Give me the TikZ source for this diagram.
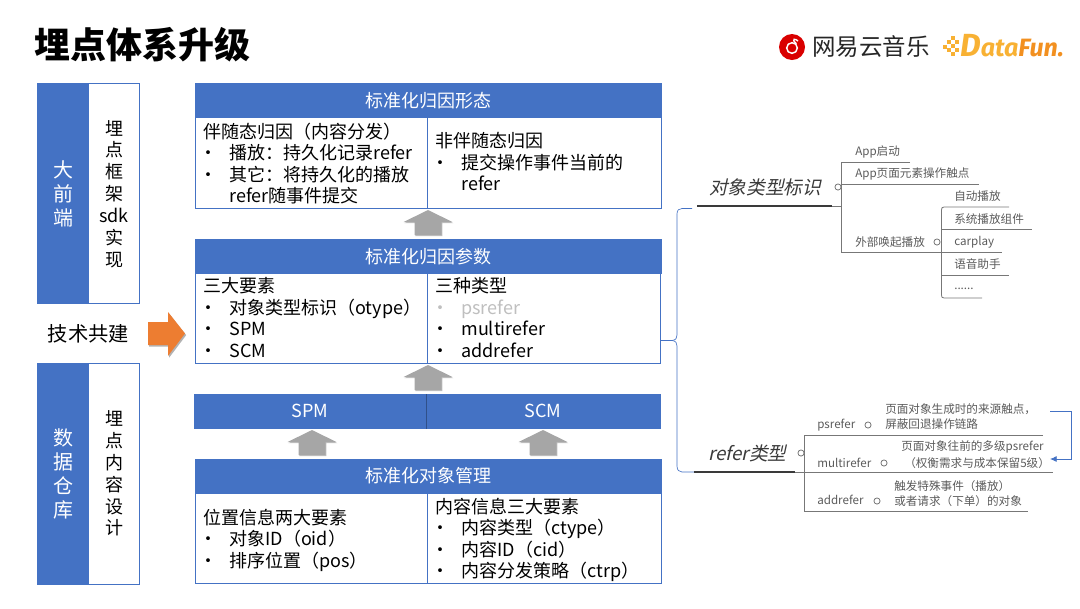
\documentclass[tikz,border=0pt]{standalone}
\usepackage{fontspec}
\setmainfont{Noto Sans CJK SC}
\newfontfamily\cjkslant[FakeSlant=0.22]{Noto Sans CJK SC}
\newfontfamily\dfont{Fira Sans}
\usetikzlibrary{shadows,arrows.meta}
\definecolor{hdblue}{HTML}{4472C4}
\definecolor{arrgray}{HTML}{A6A6A6}
\definecolor{orgarrow}{HTML}{ED7D31}
\definecolor{mapgray}{HTML}{5A5A5A}
\definecolor{mapline}{HTML}{777777}
\definecolor{maptitle}{HTML}{3A3A3A}
\definecolor{dfyellow}{HTML}{F8B133}
\definecolor{dforange}{HTML}{F29020}
\newcommand{\cellfont}{\fontsize{13.5pt}{16.1pt}\selectfont}
\newcommand{\mapfont}{\fontsize{8.7pt}{11pt}\selectfont}
\newcommand{\bul}[1]{\makebox[19.2pt][l]{\hspace*{-3.5pt}•}#1}
\newcommand{\ind}[1]{\hspace*{19.2pt}#1}
% \pbox{name}{x0}{y0}{x1}{y1}{style}{text}
\newcommand{\pbox}[7]{\node[#6,minimum width={(#4-#2)*0.75pt},minimum height={(#5-#3)*0.75pt}] (#1) at ({(#2+#4)/2},{(#3+#5)/2}) {#7};}
% \blockup{name}{tip x}{tip y}
\newcommand{\blockup}[3]{\coordinate (#1) at (#2,#3);
  \path[uparrow,shift={(#2,#3)}] (0,0) -- (24.5,12) -- (13.5,12) -- (13.5,25) -- (-13.5,25) -- (-13.5,12) -- (-24.5,12) -- cycle;}
\tikzset{
  bluebox/.style={draw=hdblue,fill=hdblue,line width=0.6pt,inner sep=0pt,outer sep=0pt,text=white,font=\cellfont},
  whitebox/.style={draw=hdblue,fill=white,line width=0.6pt,inner sep=0pt,outer sep=0pt},
  celltext/.style={anchor=north west,inner sep=0pt,align=left,font=\cellfont,text=black},
  sidetext/.style={inner sep=0pt,align=center},
  uparrow/.style={fill=arrgray,drop shadow={shadow xshift=0.6pt,shadow yshift=-0.9pt,opacity=.25,fill=black}},
  maptext/.style={anchor=west,inner sep=0pt,font=\mapfont,text=mapgray},
  mapline/.style={draw=mapline,line width=0.6pt},
  mapthick/.style={draw=maptitle,line width=1.5pt},
  mapdot/.style={circle,draw=mapline,line width=0.6pt,fill=white,minimum size=4.6pt,inner sep=0pt},
  maptitle/.style={anchor=west,inner sep=0pt,text=maptitle},
  bracket/.style={draw=hdblue,line width=0.5pt}
}
\begin{document}
\begin{tikzpicture}[x=0.75pt,y=-0.75pt]
\useasboundingbox (0,0) rectangle (1080,608);
% title
\node[anchor=west,inner sep=0pt,font={\fontsize{27pt}{30pt}\selectfont\bfseries}] (title) at (34.5,45) {埋点体系升级};
% logos
\node[circle,fill=red!85!black,minimum size=19.5pt,inner sep=0pt] (nelogo) at (792,47) {};
\node[circle,draw=white,line width=1.1pt,minimum size=8pt,inner sep=0pt] (nering) at (792,48) {};
\draw[white,line width=1.1pt] (nering.north east) .. controls (791,39) and (795,38) .. (798,41);
\node[anchor=west,inner sep=0pt,text=black!85,font={\fontsize{17.6pt}{20pt}\selectfont}] (netext) at (812,47) {网易云音乐};
\foreach \px/\py [count=\i] in {945/47,949/42,949/50,953/38,953/46,953/54,957/42,957/50}{
  \fill[dfyellow] (\px-1.6,\py-1.6) rectangle (\px+1.6,\py+1.6);
}
\node[anchor=west,inner sep=0pt,text=dfyellow,font={\dfont\fontsize{18.8pt}{22pt}\selectfont\bfseries\itshape}] (dftext) at (960,46) {{\fontsize{24pt}{24pt}\selectfont D}ata\textcolor{dforange}{Fun.}};
% left column
\pbox{lefta}{37}{83}{139.5}{303}{whitebox}{}
\pbox{leftab}{37}{83}{88.7}{303}{bluebox}{}
\pbox{leftb}{37}{363.5}{139.5}{584}{whitebox}{}
\pbox{leftbb}{37}{363.5}{88.7}{584}{bluebox}{}
\node[sidetext,text=white,font={\fontsize{15pt}{18pt}\selectfont}] (dqd) at (63,194) {大\\前\\端};
\node[sidetext,text=white,font={\fontsize{15pt}{18pt}\selectfont}] (sjck) at (63,474) {数\\据\\仓\\库};
\node[sidetext,text=black,font={\fontsize{13.5pt}{16.4pt}\selectfont}] (mdsdk) at (114,194) {埋\\点\\框\\架\\sdk\\实\\现};
\node[sidetext,text=black,font={\fontsize{13.5pt}{16.4pt}\selectfont}] (mdnr) at (114,473.5) {埋\\点\\内\\容\\设\\计};
\node[anchor=west,inner sep=0pt,font={\fontsize{15.2pt}{18pt}\selectfont}] (jsgj) at (47.5,334) {技术共建};
\coordinate (orange) at (148,333.5);
\path[fill=orgarrow,drop shadow={shadow xshift=0.9pt,shadow yshift=-1.2pt,opacity=.3,fill=black}] (148,322) -- (168,322) -- (168,312) -- (185,333.5) -- (168,356) -- (168,345) -- (148,345) -- cycle;
% table 1
\pbox{tah}{195}{83}{661}{117.5}{bluebox}{标准化归因形态}
\pbox{tal}{195}{117.5}{427.5}{208}{whitebox}{}
\pbox{tar}{427.5}{117.5}{661}{208}{whitebox}{}
\node[celltext] (tat1) at (203.5,122.5) {伴随态归因（内容分发）\\\bul{播放：持久化记录refer}\\\bul{其它：将持久化的播放}\\\ind{refer随事件提交}};
\node[celltext] (tat2) at (435.5,132.5) {非伴随态归因\\\bul{提交操作事件当前的}\\\ind{refer}};
% table 2
\pbox{tbh}{195}{239}{661}{273.5}{bluebox}{标准化归因参数}
\pbox{tbl}{195}{273.5}{427}{363.5}{whitebox}{}
\pbox{tbr}{427}{273.5}{660}{363.5}{whitebox}{}
\node[celltext] (tbt1) at (203.5,277.5) {三大要素\\\bul{对象类型标识（otype）}\\\bul{SPM}\\\bul{SCM}};
\node[celltext] (tbt2) at (435.5,277.5) {三种类型\\\textcolor{black!25}{\bul{psrefer}}\\\bul{multirefer}\\\bul{addrefer}};
% spm/scm
\pbox{spm}{194}{394}{426}{428.5}{bluebox}{SPM}
\pbox{scm}{426}{394}{660}{428.5}{bluebox}{SCM}
\draw[hdblue!70!black,line width=0.5pt] (spm.north east) -- (spm.south east);
% table 3
\pbox{tch}{195}{459}{661}{493}{bluebox}{标准化对象管理}
\pbox{tcl}{195}{493}{427.5}{583.5}{whitebox}{}
\pbox{tcr}{427.5}{493}{661}{583.5}{whitebox}{}
\node[celltext] (tct1) at (203.5,508.5) {位置信息两大要素\\\bul{对象ID（oid）}\\\bul{排序位置（pos）}};
\node[celltext] (tct2) at (435.5,497.5) {内容信息三大要素\\\bul{内容类型（ctype）}\\\bul{内容ID（cid）}\\\bul{内容分发策略（ctrp）}};
% gray arrows
\blockup{ua1}{428}{210}
\blockup{ua2}{428}{365}
\blockup{ua3}{312}{430}
\blockup{ua4}{543}{430}
% bracket
\coordinate (brs) at (660,340.5);
\coordinate (brt) at (692,208.5);
\coordinate (brb) at (694,472);
\draw[bracket] (brs) -- (672,340.5) .. controls (676,340) and (677,338) .. (677,335) -- (677,214) .. controls (677,210) and (679,208.5) .. (682,208.5) -- (brt);
\draw[bracket] (672,340.5) .. controls (676,341) and (677,343) .. (677,346) -- (677,466) .. controls (677,470) and (679,472) .. (682,472) -- (brb);
% mind map 1
\node[maptitle,font={\cjkslant\fontsize{14pt}{16pt}\selectfont}] (m1) at (709,187) {对象类型标识};
\coordinate (m1s) at (697,206);
\coordinate (m1e) at (832,206);
\draw[mapthick] (m1s) -- (m1e);
\draw[mapline] (m1e) -- (841,206);
\draw[mapline] (910,162) -- (841,162) -- (841,252) -- (1002,252);
\draw[mapline] (841,184) -- (979,184);
\draw[mapline] (1009,207) -- (944,207) .. controls (942,207) and (941.5,208) .. (941.5,210) -- (941.5,295) .. controls (941.5,297) and (942,298) .. (944,298) -- (982,298);
\draw[mapline] (941.5,229.5) -- (1032,229.5);
\draw[mapline] (941.5,275) -- (1009,275);
\node[mapdot] (d1) at (838,187) {};
\node[mapdot] (d2) at (937,242) {};
\node[maptext] (a1) at (855,151.5) {App启动};
\node[maptext] (a2) at (855,174) {App页面元素操作触点};
\node[maptext] (a3) at (855,242) {外部唤起播放};
\node[maptext] (a4) at (954,196) {自动播放};
\node[maptext] (a5) at (954,219) {系统播放组件};
\node[maptext] (a6) at (954,242) {carplay};
\node[maptext] (a7) at (954,264) {语音助手};
\node[maptext] (a8) at (954,289) {......};
% mind map 2
\node[maptitle,font={\cjkslant\fontsize{14pt}{16pt}\selectfont}] (m2) at (708,453) {refer类型};
\coordinate (m2e) at (795,472);
\draw[mapthick] (brb) -- (m2e);
\draw[mapline] (m2e) -- (1053,472);
\draw[mapline] (1043,435) -- (804,435) -- (804,511) -- (1028,511);
\node[mapdot] (d3) at (801,453) {};
\node[mapdot] (d4) at (868,425) {};
\node[mapdot] (d5) at (884,463) {};
\node[mapdot] (d6) at (877,501) {};
\node[maptext] (b1) at (817,425) {psrefer};
\node[maptext] (b2) at (817,462.5) {multirefer};
\node[maptext] (b3) at (817,500) {addrefer};
\node[maptext] (c1) at (885,409) {页面对象生成时的来源触点，};
\node[maptext] (c2) at (885,424) {屏蔽回退操作链路};
\node[maptext] (c3) at (901,447) {页面对象往前的多级psrefer};
\node[maptext] (c4) at (904,463) {（权衡需求与成本保留5级）};
\node[maptext] (c5) at (894,486) {触发特殊事件（播放）};
\node[maptext] (c6) at (894,501) {或者请求（下单）的对象};
\coordinate (ls) at (1050,411);
\coordinate (le) at (1050,459);
\draw[hdblue,line width=0.6pt,-{Latex[length=5pt,width=4.5pt]}] (ls) -- (1071,411) -- (1071,459) -- (le);
\end{tikzpicture}
\end{document}
